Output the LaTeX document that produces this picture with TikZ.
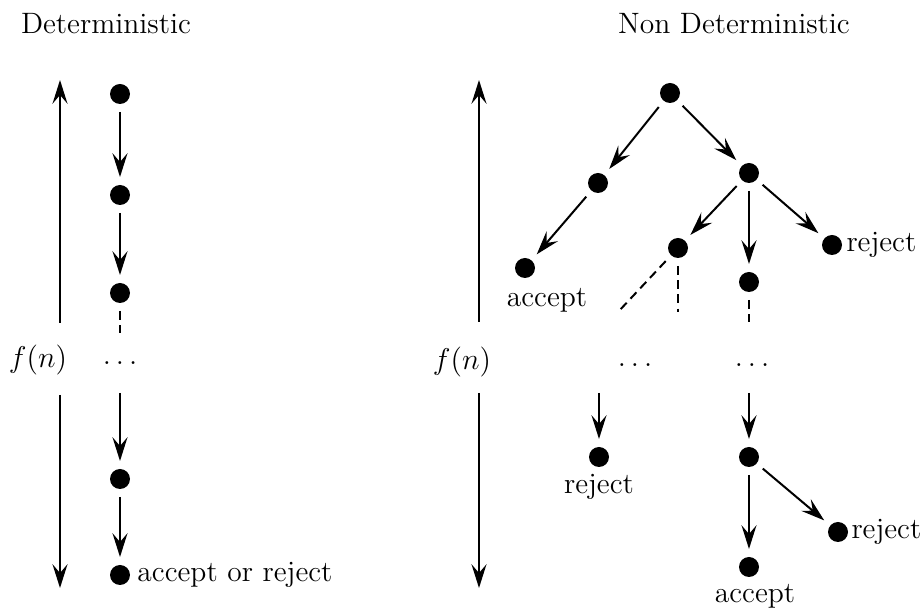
\documentclass[tikz,border=0pt]{standalone}
\usetikzlibrary{arrows.meta}
\begin{document}
\begin{tikzpicture}[x=0.4pt,y=-0.4pt,
  font=\fontsize{11.8}{14}\selectfont,
  dot/.style={circle,fill=black,inner sep=0pt,minimum size=8pt},
  arr/.style={line width=0.8pt,-{Stealth[length=9.5pt,width=6pt,inset=3.5pt]},shorten >=3pt,shorten <=3pt},
  bigarr/.style={line width=0.8pt,-{Stealth[length=9.5pt,width=6pt,inset=3.5pt]}},
  dsh/.style={line width=0.8pt,dash pattern=on 3.5pt off 2.2pt,shorten <=3pt},
  lbl/.style={inner sep=0pt}]
\useasboundingbox (0,0) rectangle (922,612);
% titles
\node[lbl] (t1) at (106,24) {Deterministic};
\node[lbl] (t2) at (734,24) {Non Deterministic};
% ---------- left ----------
\node[lbl] (fn1) at (38,360) {\large $f(n)$};
\coordinate (l1a) at (60,323); \coordinate (l1b) at (60,80);
\coordinate (l1c) at (60,395); \coordinate (l1d) at (60,588);
\draw[bigarr] (l1a) -- (l1b);
\draw[bigarr] (l1c) -- (l1d);
\node[dot] (d1) at (120,94) {};
\node[dot] (d2) at (120,195) {};
\node[dot] (d3) at (120,293) {};
\node[lbl] (ld) at (120,363) {$\dots$};
\node[dot] (d4) at (120,479) {};
\node[dot] (d5) at (120,575) {};
\coordinate (d3e) at (120,333);
\coordinate (d4s) at (120,393);
\draw[arr] (d1) -- (d2);
\draw[arr] (d2) -- (d3);
\draw[dsh] (d3) -- (d3e);
\draw[arr,shorten <=0pt] (d4s) -- (d4);
\draw[arr] (d4) -- (d5);
\node[lbl,anchor=west] (ar) at (137,575) {accept or reject};
% ---------- right ----------
\node[lbl] (fn2) at (462,362) {\large $f(n)$};
\coordinate (r1a) at (479,322); \coordinate (r1b) at (479,80);
\coordinate (r1c) at (479,393); \coordinate (r1d) at (479,588);
\draw[bigarr] (r1a) -- (r1b);
\draw[bigarr] (r1c) -- (r1d);
\node[dot] (r) at (670,93) {};
\node[dot] (a) at (598,183) {};
\node[dot] (b) at (749,173) {};
\node[dot] (c) at (525,268) {};
\node[dot] (e) at (678,248) {};
\node[dot] (f) at (749,282) {};
\node[dot] (g) at (832,245) {};
\draw[arr] (r) -- (a);
\draw[arr] (r) -- (b);
\draw[arr] (a) -- (c);
\draw[arr] (b) -- (e);
\draw[arr] (b) -- (f);
\draw[arr] (b) -- (g);
\node[lbl] (cacc) at (547,300) {accept};
\node[lbl,anchor=west] (grej) at (846,245) {reject};
\coordinate (e1) at (618,312);
\coordinate (e2) at (678,312);
\coordinate (f1) at (749,322);
\draw[dsh] (e) -- (e1);
\draw[dsh] (e) -- (e2);
\draw[dsh] (f) -- (f1);
\node[lbl] (ld2) at (635,365) {$\dots$};
\node[lbl] (ld3) at (752,365) {$\dots$};
\coordinate (hs) at (599,393);
\coordinate (is) at (749,393);
\node[dot] (h) at (599,457) {};
\node[dot] (i) at (749,457) {};
\node[dot] (j) at (749,567) {};
\node[dot] (k) at (838,532) {};
\draw[arr,shorten <=0pt] (hs) -- (h);
\draw[arr,shorten <=0pt] (is) -- (i);
\draw[arr] (i) -- (j);
\draw[arr] (i) -- (k);
\node[lbl] (hrej) at (599,487) {reject};
\node[lbl] (jacc) at (755,596) {accept};
\node[lbl,anchor=west] (krej) at (851,532) {reject};
\end{tikzpicture}
\end{document}
